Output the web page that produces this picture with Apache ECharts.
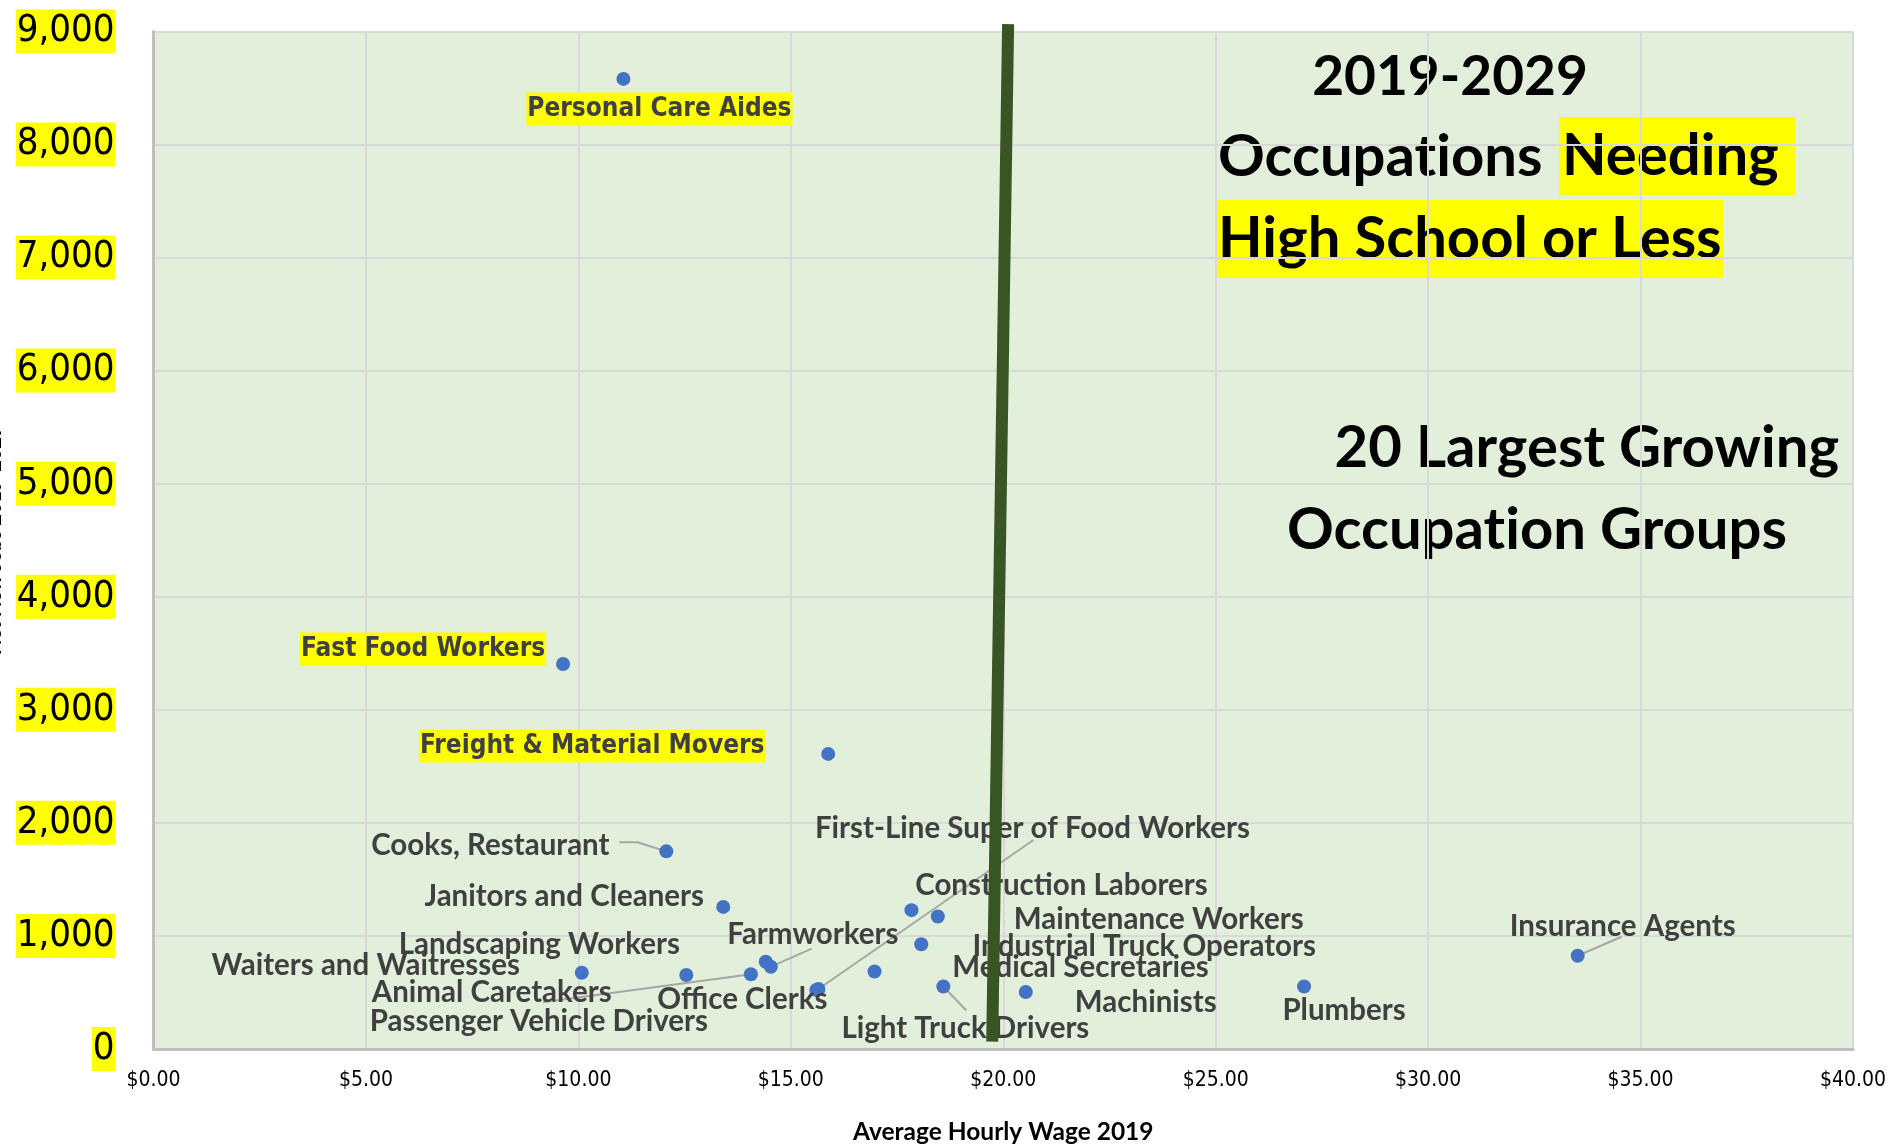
<!DOCTYPE html>
<html>
<head>
<meta charset="utf-8">
<script src="https://cdn.jsdelivr.net/npm/echarts@6/dist/echarts.min.js"></script>
<style>
  html, body { margin: 0; background: #fff; }
  #chart { width: 1895px; height: 1144px; }
</style>
</head>
<body>
<div id="chart"></div>
<script>
// 数据
var occupations = [
	'Personal Care Aides', 'Fast Food Workers', 'Freight & Material Movers', 'Cooks, Restaurant',
	'Janitors and Cleaners', 'Construction Laborers', 'Maintenance Workers', 'Industrial Truck Operators',
	'Medical Secretaries', 'Light Truck Drivers', 'Machinists', 'Plumbers', 'Insurance Agents',
	'First-Line Super of Food Workers', 'Office Clerks', 'Farmworkers', 'Animal Caretakers',
	'Waiters and Waitresses', 'Landscaping Workers', 'Passenger Vehicle Drivers'
];
var wages = [11.06, 9.64, 15.88, 12.07, 13.41, 17.84, 18.46, 18.07, 16.97, 18.59, 20.53, 27.08, 33.52,
	15.65, 15.60, 14.53, 14.41, 10.08, 12.54, 14.06];
var netJobs = [8580, 3405, 2610, 1748, 1257, 1228, 1172, 926, 686, 553, 504, 553, 825,
	531, 522, 728, 772, 675, 654, 661];
var highlighted = ['Personal Care Aides', 'Fast Food Workers', 'Freight & Material Movers'];
// the dark green divider, wage / jobs at its two ends
var dividerWage = [20.115, 19.74];
var dividerJobs = [9065, 65];

// label centre relative to its point (px)
var labelOffset = {
	'Personal Care Aides': [36, 30],
	'Fast Food Workers': [-140, -15],
	'Freight & Material Movers': [-236, -8],
	'Cooks, Restaurant': [-176, -6],
	'Janitors and Cleaners': [-159, -10],
	'Construction Laborers': [150, -25],
	'Maintenance Workers': [221, 3],
	'Industrial Truck Operators': [223, 2],
	'Medical Secretaries': [206, -4],
	'Light Truck Drivers': [22, 42],
	'Machinists': [120, 10],
	'Plumbers': [40, 24],
	'Insurance Agents': [45, -29],
	'First-Line Super of Food Workers': [214, -160],
	'Office Clerks': [-74, 10],
	'Farmworkers': [42, -32],
	'Animal Caretakers': [-274, 31],
	'Waiters and Waitresses': [-216, -7],
	'Landscaping Workers': [-147, -31],
	'Passenger Vehicle Drivers': [-212, 47]
};
// leader lines: bends relative to the point (px), last one touches the label
var leaderPath = {
	'Cooks, Restaurant': [[-29, -9], [-47, -9]],
	'First-Line Super of Food Workers': [[215, -149]],
	'Insurance Agents': [[44, -19]],
	'Farmworkers': [[41, -18]],
	'Light Truck Drivers': [[23, 24]],
	'Passenger Vehicle Drivers': [[-208, 28]]
};

var chart = echarts.init(document.getElementById('chart'));

var points = occupations.map(function (name, i) {
	var item = { name: name, value: [wages[i], netJobs[i]] };
	if (highlighted.indexOf(name) > -1) {
		item.label = {
			fontFamily: '"DejaVu Sans Condensed", "DejaVu Sans", sans-serif',
			fontSize: 26,
			backgroundColor: '#FFFF00',
			padding: [4, 1, 3, 1]
		};
	}
	return item;
});

var leaders = [];
occupations.forEach(function (name, i) {
	if (leaderPath[name]) leaders.push([wages[i], netJobs[i], i]);
});

var titleFont = 'bold 58px Lato, "Open Sans", sans-serif';

var option = {
	backgroundColor: '#ffffff',
	animation: false,
	grid: {
		left: 153.5,
		right: 42,
		top: 31.4,
		bottom: 95,
		containLabel: false,
		outerBoundsMode: 'none',
		show: true,
		backgroundColor: '#E2EFDA',
		borderWidth: 0
	},
	xAxis: {
		type: 'value',
		min: 0,
		max: 40,
		interval: 5,
		name: 'Average Hourly Wage 2019',
		nameLocation: 'middle',
		nameGap: 71,
		nameTextStyle: {
			fontFamily: 'Lato, sans-serif',
			fontWeight: 'bold',
			fontSize: 24.5,
			color: '#000'
		},
		axisLine: { show: true, lineStyle: { color: '#BFBFBF', width: 3 } },
		axisTick: { show: false },
		axisLabel: {
			margin: 21,
			fontFamily: '"DejaVu Sans Condensed", "DejaVu Sans", sans-serif',
			fontSize: 21,
			color: '#000',
			formatter: function (v) { return '$' + v.toFixed(2); }
		},
		splitLine: { show: true, lineStyle: { color: '#D9D9D9', width: 2 } }
	},
	yAxis: {
		type: 'value',
		min: 0,
		max: 9000,
		interval: 1000,
		name: 'Net New Jobs 2019-2029',
		nameLocation: 'middle',
		nameGap: 146,
		nameTextStyle: {
			fontFamily: 'Lato, sans-serif',
			fontWeight: 'bold',
			fontSize: 20,
			color: '#000'
		},
		axisLine: { show: true, lineStyle: { color: '#BFBFBF', width: 3 } },
		axisTick: { show: false },
		axisLabel: {
			margin: 38,
			fontFamily: '"DejaVu Sans Condensed", "DejaVu Sans", sans-serif',
			fontSize: 38,
			lineHeight: 41,
			color: '#000',
			backgroundColor: '#FFFF00',
			padding: [2, 1, 1, 1],
			formatter: function (v) { return v.toLocaleString('en-US'); }
		},
		splitLine: { show: true, lineStyle: { color: '#D9D9D9', width: 2 } }
	},
	series: [{
		type: 'scatter',
		z: 3,
		symbolSize: 14,
		itemStyle: { color: '#4472C4', opacity: 1 },
		label: {
			show: true,
			formatter: '{b}',
			fontFamily: 'Lato, "Open Sans", sans-serif',
			fontWeight: 'bold',
			fontSize: 29.5,
			color: '#404040'
		},
		labelLayout: function (p) {
			var off = labelOffset[occupations[p.dataIndex]];
			return {
				x: p.rect.x + p.rect.width / 2 + off[0],
				y: p.rect.y + p.rect.height / 2 + off[1],
				align: 'center',
				verticalAlign: 'middle'
			};
		},
		data: points
	}, {
		// leader lines from the labels back to their points
		type: 'custom',
		z: 2,
		silent: true,
		encode: { x: 0, y: 1 },
		renderItem: function (params, api) {
			var name = occupations[api.value(2)];
			var pt = api.coord([api.value(0), api.value(1)]);
			var pts = [pt].concat(leaderPath[name].map(function (o) {
				return [pt[0] + o[0], pt[1] + o[1]];
			}));
			return {
				type: 'polyline',
				shape: { points: pts },
				style: { stroke: '#A6A6A6', lineWidth: 2, fill: null }
			};
		},
		data: leaders
	}, {
		type: 'line',
		data: dividerWage.map(function (w, i) { return [w, dividerJobs[i]]; }),
		symbol: 'none',
		clip: false,
		silent: true,
		z: 10,
		lineStyle: { color: '#375623', width: 12, cap: 'butt' }
	}],
	graphic: [
		{ type: 'text', style: { text: '2019-2029', x: 1450, y: 77, align: 'center', verticalAlign: 'middle', font: 'bold 55px Lato, "Open Sans", sans-serif', fill: '#000' } },
		{ type: 'text', style: { text: 'Occupat\u200Cions ', x: 1218, y: 157, align: 'left', verticalAlign: 'middle', font: titleFont, fill: '#000' } },
		{ type: 'text', style: { text: 'Needing', x: 1559, y: 156, align: 'left', verticalAlign: 'middle', font: titleFont, fill: '#000', backgroundColor: '#FFFF00', padding: [10, 17, 10, 3] } },
		{ type: 'text', style: { text: 'High School or Less', x: 1215, y: 239, align: 'left', verticalAlign: 'middle', font: titleFont, fill: '#000', backgroundColor: '#FFFF00', padding: [10, 2, 10, 3] } },
		{ type: 'text', style: { text: '20 Largest Growing', x: 1839, y: 448, align: 'right', verticalAlign: 'middle', font: titleFont, fill: '#000' } },
		{ type: 'text', style: { text: 'Occupat\u200Cion Groups', x: 1287, y: 530, align: 'left', verticalAlign: 'middle', font: titleFont, fill: '#000' } }
	]
};

chart.setOption(option);
</script>
</body>
</html>
